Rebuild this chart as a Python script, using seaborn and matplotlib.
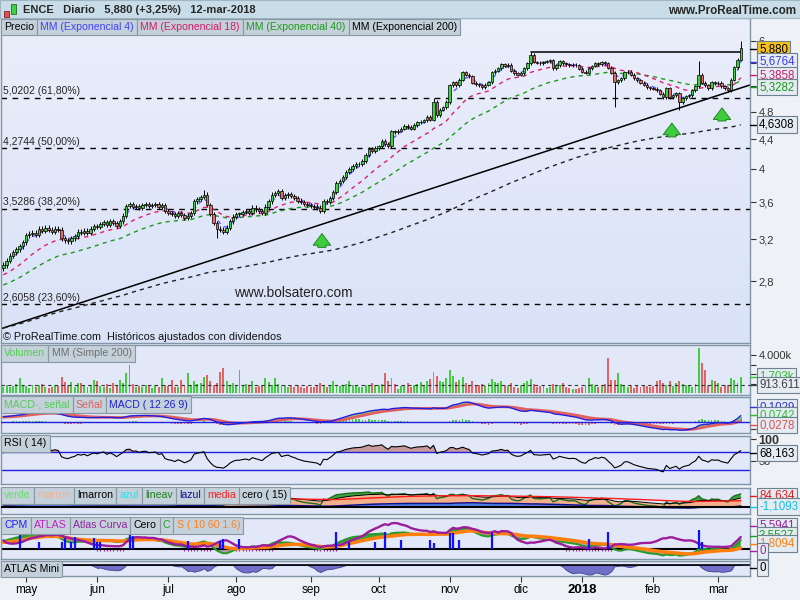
import numpy as np
import pandas as pd
import matplotlib
matplotlib.use("Agg")
import matplotlib.pyplot as plt
from matplotlib.patches import Rectangle
from matplotlib.lines import Line2D
import seaborn as sns

# ---------------- datos (ENCE diario) ----------------
cierres_abr = [2.95, 2.99, 3.04, 3.07, 3.10, 3.13, 3.17]
cierres_may = [3.24, 3.26, 3.27, 3.25, 3.31, 3.29, 3.32, 3.30, 3.28, 3.31, 3.30,
               3.21, 3.19, 3.18, 3.21, 3.23, 3.28, 3.27, 3.29, 3.27, 3.31, 3.34]
cierres_jun = [3.33, 3.36, 3.38, 3.35, 3.39, 3.37, 3.34, 3.39, 3.45, 3.56, 3.58,
               3.55, 3.56, 3.54, 3.57, 3.58, 3.56, 3.57, 3.58, 3.55, 3.57, 3.50]
cierres_jul = [3.48, 3.47, 3.45, 3.48, 3.46, 3.43, 3.45, 3.48, 3.61, 3.64, 3.66,
               3.69, 3.57, 3.47, 3.37, 3.31, 3.30, 3.28, 3.32, 3.39, 3.44]
cierres_ago = [3.47, 3.47, 3.49, 3.50, 3.48, 3.54, 3.52, 3.50, 3.48, 3.55, 3.61, 3.69,
               3.71, 3.73, 3.65, 3.68, 3.70, 3.67, 3.65, 3.62, 3.60, 3.58, 3.57]
cierres_sep = [3.56, 3.55, 3.54, 3.50, 3.61, 3.60, 3.65, 3.72, 3.83, 3.85, 3.90,
               3.96, 4.00, 4.04, 4.06, 4.07, 4.10, 4.18, 4.26, 4.24, 4.28]
cierres_oct = [4.30, 4.37, 4.33, 4.30, 4.51, 4.50, 4.52, 4.55, 4.59, 4.57, 4.55,
               4.60, 4.64, 4.65, 4.67, 4.72, 4.68, 4.95, 4.75, 4.83, 4.87, 4.95]
cierres_nov = [5.22, 5.27, 5.22, 5.31, 5.44, 5.40, 5.37, 5.26, 5.24, 5.22, 5.19,
               5.23, 5.27, 5.44, 5.47, 5.51, 5.58, 5.55, 5.57, 5.47, 5.42, 5.40]
cierres_dic = [5.42, 5.51, 5.60, 5.75, 5.62, 5.61, 5.60, 5.62, 5.63, 5.65, 5.51,
               5.56, 5.63, 5.60, 5.58, 5.56, 5.57, 5.56, 5.50]
cierres_ene = [5.45, 5.43, 5.51, 5.55, 5.60, 5.58, 5.62, 5.60, 5.52, 5.43, 5.27,
               5.30, 5.34, 5.44, 5.45, 5.40, 5.34, 5.30, 5.26, 5.23, 5.19, 5.17]
cierres_feb = [5.16, 5.14, 5.08, 5.03, 5.17, 5.03, 5.06, 5.09, 4.95, 5.01,
               5.04, 5.06, 5.14, 5.20, 5.40, 5.26, 5.22, 5.17, 5.27, 5.25]
cierres_mar = [5.26, 5.20, 5.17, 5.14, 5.31, 5.53, 5.66, 5.88]

apertura_inicial = 2.92
mecha_normal = 0.025
mecha_alta = {62: 0.05, 133: 0.06, 163: 0.06, 215: 0.24, 228: 0.12}
mecha_baja = {66: 0.10, 189: 0.40, 209: 0.12}

# volumen en miles
vol_abr = [700, 900, 650, 800, 1000, 1580, 750]
vol_may = [800, 600, 900, 700, 850, 1000, 650, 550, 700, 900, 800,
           1750, 1200, 900, 1200, 700, 1100, 1050, 800, 650, 900, 1400]
vol_jun = [1250, 800, 700, 950, 600, 1100, 900, 1400, 1100, 2100, 2950,
           1000, 700, 800, 650, 900, 750, 600, 850, 700, 1580, 900]
vol_jul = [800, 1400, 700, 650, 1400, 800, 2100, 900, 1300, 1000, 1100,
           1750, 1900, 1300, 900, 1100, 2280, 2630, 1250, 900, 1100]
vol_ago = [900, 2450, 800, 1000, 900, 1250, 700, 800, 850, 1580, 1200, 900,
           1580, 1000, 800, 900, 700, 750, 650, 900, 700, 600, 800]
vol_sep = [700, 650, 800, 1100, 900, 700, 800, 1250, 900, 800, 900,
           1000, 1250, 900, 800, 650, 700, 900, 800, 1100, 900]
vol_oct = [900, 1000, 2100, 1300, 1600, 1000, 500, 800, 900, 1100, 700,
           900, 1000, 1200, 900, 1300, 1500, 2200, 1800, 1300, 1200, 1600]
vol_nov = [2500, 1800, 1200, 1400, 1700, 1100, 900, 1300, 800, 900, 1000,
           800, 1100, 1500, 1200, 1100, 1300, 900, 800, 1100, 700, 600]
vol_dic = [900, 1100, 1300, 1500, 1000, 700, 800, 900, 600, 700,
           1000, 800, 900, 1120, 700, 600, 500, 400, 600]
vol_ene = [700, 900, 1580, 1000, 800, 700, 900, 1000, 3680, 1400, 1400,
           2100, 1000, 900, 700, 800, 600, 800, 700, 900, 800, 700]
vol_feb = [800, 1250, 1400, 1100, 900, 1250, 800, 1100, 1300, 1000,
           900, 800, 700, 1000, 4740, 3160, 2450, 850, 1400, 1250]
vol_mar = [1050, 700, 850, 900, 1580, 1400, 1100, 1750]
vol_mm200 = 913.611

# barras CPM (día, altura)
cpm_dia = [5, 11, 18, 19, 21, 22, 28, 29, 30, 39, 40, 57, 67, 68, 73, 103, 107, 115,
           118, 123, 132, 133, 138, 139, 141, 151, 181, 187, 215, 216]
cpm_valor = [4.4, 2.3, 2.3, 3.3, 2.3, 3.8, 3.3, 2.3, 2.3, 4.4, 4.1, 2.6, 2.6, 3.1, 3.1,
             5.4, 2.1, 2.3, 5.2, 2.8, 2.8, 2.0, 4.9, 5.1, 2.8, 4.9, 3.1, 5.4, 5.9, 2.3]

niveles_fibo = [5.0202, 4.2744, 3.5286, 2.6058]
etiquetas_fibo = ["5,0202 (61,80%)", "4,2744 (50,00%)", "3,5286 (38,20%)", "2,6058 (23,60%)"]
tendencia_x = [-0.74, 230.86]
tendencia_y = [2.41, 5.225]
resistencia_x = [163, 228]
resistencia_y = [5.80, 5.80]
flechas_x = [98.5, 206.7, 222.2]
flechas_base = [3.12, 4.43, 4.66]
flechas_punta = [3.26, 4.63, 4.86]

festivos = ["2017-05-01", "2017-12-25", "2017-12-26", "2018-01-01"]
meses = ["may", "jun", "jul", "ago", "sep", "oct", "nov", "dic", "2018", "feb", "mar"]

# ---------------- preparación ----------------
closes = np.array(cierres_abr + cierres_may + cierres_jun + cierres_jul + cierres_ago +
                  cierres_sep + cierres_oct + cierres_nov + cierres_dic + cierres_ene +
                  cierres_feb + cierres_mar)
volume = np.array(vol_abr + vol_may + vol_jun + vol_jul + vol_ago + vol_sep + vol_oct +
                  vol_nov + vol_dic + vol_ene + vol_feb + vol_mar, dtype=float)
n = len(closes)
idx = np.arange(n)
dates = pd.bdate_range("2017-04-20", "2018-03-12")
dates = dates[~dates.isin(pd.to_datetime(festivos))][:n]

opens = np.r_[apertura_inicial, closes[:-1]]
w_up = np.full(n, mecha_normal)
w_dn = np.full(n, mecha_normal)
for k, v in mecha_alta.items():
    w_up[k] = v
for k, v in mecha_baja.items():
    w_dn[k] = v
highs = np.maximum(opens, closes) + w_up
lows = np.minimum(opens, closes) - w_dn


def ema(values, span, seed=None):
    a = 2.0 / (span + 1)
    prev = values[0] if seed is None else seed
    out = np.empty(len(values))
    for k, v in enumerate(values):
        prev = prev + a * (v - prev)
        out[k] = prev
    return out


def rsi_wilder(c, per, g0, l0):
    ag, al = g0, l0
    out = np.empty(len(c))
    for k in range(len(c)):
        d = c[k] - c[k - 1] if k > 0 else 0.0
        ag = (ag * (per - 1) + max(d, 0)) / per
        al = (al * (per - 1) + max(-d, 0)) / per
        out[k] = 100 * ag / (ag + al)
    return out


ema4 = ema(closes, 4, 2.92)
ema18 = ema(closes, 18, 2.85)
ema40 = ema(closes, 40, 2.76)
ema200 = ema(closes, 200, 2.41)

macd = ema(closes, 12, 2.88) - ema(closes, 26, 2.80)
senal = ema(macd, 9, 0.07)
hist = macd - senal

rsi14 = rsi_wilder(closes, 14, 0.022, 0.010)

rsi15 = rsi_wilder(closes, 15, 0.02, 0.011)
rsi7 = rsi_wilder(closes, 7, 0.02, 0.011)
lmarron = 1.5 * ema(rsi15, 5) - 25
lineav = 1.5 * rsi7 - 25
media = ema(lmarron, 40, 40)
azul = 400 * (ema(closes, 15, 2.86) - ema40) / closes

base20 = np.r_[np.full(20, closes[0]), closes[:-20]]
atlas = ema(np.abs(40 * np.log(closes / base20)), 5, 4.0)
c_line = 45 * np.log(ema4 / ema40)
s_line = ema(c_line, 15, 2.0)
mini = np.clip(np.minimum(0, atlas - 1.6) * 7, -10, 0)

# ---------------- figura ----------------
sns.set_style("white")
plt.rcParams["font.family"] = ["Liberation Sans", "DejaVu Sans"]

W, H = 800, 600
PLOT_R = 750
XMIN, XMAX = -0.74, 230.86
BORDE = "#8096a6"
FONDO = "#e2e8f8"

fig = plt.figure(figsize=(8, 6), dpi=100, facecolor="#eef2f6")
fig.patches.append(Rectangle((0, 1 - 18 / H), 1, 18 / H, transform=fig.transFigure,
                             facecolor="#c8dde7", edgecolor="#9fb6c3", lw=0.8, zorder=0))


def panel(top, bottom, bg=FONDO):
    ax = fig.add_axes([1 / W, 1 - bottom / H, (PLOT_R - 1) / W, (bottom - top) / H])
    ax.set_facecolor(bg)
    for s in ax.spines.values():
        s.set_color(BORDE)
        s.set_linewidth(1)
    ax.yaxis.tick_right()
    ax.tick_params(axis="x", bottom=False, labelbottom=False)
    ax.tick_params(axis="y", right=True, direction="out", length=4, width=0.8,
                   colors="#333333", labelsize=8, pad=2)
    ax.set_xlim(XMIN, XMAX)
    return ax


# --- precio ---
ax = panel(18, 343)
grad = np.linspace(0, 1, 100).reshape(-1, 1)
cmap = matplotlib.colors.LinearSegmentedColormap.from_list("bg", ["#ebeefb", "#d9e2f7"])
ax.imshow(grad, extent=[0, 1, 0, 1], transform=ax.transAxes, aspect="auto", cmap=cmap,
          zorder=0, origin="upper")
ax.set_yscale("log")

trans = ax.get_yaxis_transform()
for lvl, lab in zip(niveles_fibo, etiquetas_fibo):
    ax.axhline(lvl, color="black", lw=1, ls=(0, (4, 4)), zorder=1)
    ax.annotate(lab, xy=(0.003, lvl), xycoords=trans, xytext=(0, 1),
                textcoords="offset points", va="bottom", ha="left", fontsize=7.5, zorder=5)

sns.lineplot(x=tendencia_x, y=tendencia_y, ax=ax, color="black", lw=1.1, zorder=2)
sns.lineplot(x=resistencia_x, y=resistencia_y, ax=ax, color="black", lw=1.1, zorder=2)

for serie, color in [(ema200, "#222222"), (ema40, "#1c9a1c"), (ema18, "#e0206f"),
                     (ema4, "#5a5aff")]:
    sns.lineplot(x=idx, y=serie, ax=ax, color=color, lw=1, linestyle=(0, (3, 3)), zorder=2)

up = closes >= opens
ax.vlines(idx, lows, highs, color="black", lw=0.7, zorder=3)
cuerpo = np.maximum(np.abs(closes - opens), 0.006)
ax.bar(idx, cuerpo, bottom=np.minimum(opens, closes), width=0.75,
       color=np.where(up, "#3fd13f", "#e26a6a"), edgecolor="black", linewidth=0.5, zorder=4)

for fx, fb, ft in zip(flechas_x, flechas_base, flechas_punta):
    ax.annotate("", xy=(fx, ft), xytext=(fx, fb), zorder=6,
                arrowprops=dict(arrowstyle="simple,head_width=0.9,head_length=0.6,tail_width=0.42",
                                fc="#3ccc3c", ec="#1a7a1a", lw=0.6, mutation_scale=14,
                                shrinkA=0, shrinkB=0))

yt = [2.8, 3.2, 3.6, 4.0, 4.4, 4.8, 5.2, 5.6, 6.0]
ax.set_yticks(yt)
ax.set_yticklabels(["2,8", "3,2", "3,6", "4", "4,4", "4,8", "", "", "6"])
ax.yaxis.set_minor_locator(matplotlib.ticker.NullLocator())
ax.set_ylim(2.303, 6.463)
ax.set_xlim(XMIN, XMAX)
ax.set_xlabel("")
ax.set_ylabel("")

fig.text(234 / W, 1 - 293 / H, "www.bolsatero.com", fontsize=9.8, va="center", color="#222222")
fig.text(3 / W, 1 - 337 / H, "© ProRealTime.com  Históricos ajustados con dividendos",
         fontsize=7.8, va="center", color="#111111")

# --- volumen ---
axv = panel(345, 395)
axv.bar(idx, volume, width=0.6, color=np.where(up, "#44cc44", "#e06666"), lw=0, zorder=2)
axv.axhline(vol_mm200, color="#333333", lw=0.8, ls=(0, (3, 3)), zorder=3)
axv.set_yticks([1000, 2000, 3000, 4000])
axv.set_yticklabels(["", "", "", "4.000k"])
axv.set_ylim(-179, 5084)

# --- MACD ---
axm = panel(397, 433)
axm.bar(idx, hist, width=0.5, color=np.where(hist >= 0, "#44cc44", "#e06666"), lw=0, zorder=2)
axm.fill_between(idx, macd, senal, where=macd >= senal, color="#7fd87f", lw=0,
                 interpolate=True, zorder=3)
axm.fill_between(idx, macd, senal, where=macd < senal, color="#ee8080", lw=0,
                 interpolate=True, zorder=3)
sns.lineplot(x=idx, y=senal, ax=axm, color="#e26060", lw=2, zorder=4)
sns.lineplot(x=idx, y=macd, ax=axm, color="#2020e0", lw=1, zorder=5)
axm.axhline(0, color="#2020e0", lw=1, zorder=4)
axm.set_yticks([-0.1, 0.1])
axm.set_yticklabels(["", ""])
axm.set_ylim(-0.151, 0.356)
axm.set_xlim(XMIN, XMAX)

# --- RSI ---
axr = panel(436, 484)
axr.fill_between(idx, 70, rsi14, where=rsi14 > 70, color="#c99a9a", lw=0, interpolate=True)
axr.fill_between(idx, 30, rsi14, where=rsi14 < 30, color="#8fa0e8", lw=0, interpolate=True)
axr.axhline(70, color="#2020e0", lw=1)
axr.axhline(30, color="#2020e0", lw=1)
sns.lineplot(x=idx, y=rsi14, ax=axr, color="black", lw=0.8, zorder=4)
axr.set_yticks([50, 100])
axr.set_yticklabels(["50", "100"])
axr.get_yticklabels()[1].set_fontweight("bold")
axr.get_yticklabels()[1].set_fontsize(9)
axr.set_ylim(-1.6, 106.8)
axr.set_xlim(XMIN, XMAX)

# --- indicador (15) ---
axi = panel(488, 514)
axi.fill_between(idx, 0, lmarron, color="#f4b08c", lw=0, zorder=1)
axi.fill_between(idx, lmarron, lineav, where=lineav > lmarron, color="#3fa53f", lw=0,
                 interpolate=True, zorder=2)
sns.lineplot(x=idx, y=lineav, ax=axi, color="#1d6d1d", lw=1, zorder=3)
sns.lineplot(x=idx, y=lmarron, ax=axi, color="black", lw=0.7, zorder=3)
axi.fill_between(idx, 0, azul, color="#4d7fe6", lw=0, zorder=4)
sns.lineplot(x=idx, y=azul, ax=axi, color="#10108a", lw=1.1, zorder=5)
sns.lineplot(x=idx, y=media, ax=axi, color="#ff1a1a", lw=1, zorder=5)
axi.axhline(0, color="black", lw=1.5, zorder=6)
axi.set_yticks([])
axi.set_ylim(-58.9, 150.8)
axi.set_xlim(XMIN, XMAX)

# --- CPM / ATLAS ---
axc = panel(518, 559)
axc.fill_between(idx, c_line, s_line, where=c_line >= s_line, color="#3fa53f", lw=0,
                 interpolate=True, zorder=1)
axc.fill_between(idx, c_line, s_line, where=c_line < s_line, color="#b89ab0", lw=0,
                 interpolate=True, zorder=1)
curva = atlas < 1.3
axc.vlines(idx[curva], -0.7, 0, color="#a020a0", lw=0.8, zorder=2)
axc.axhline(0, color="black", lw=1.5, zorder=2)
sns.lineplot(x=idx, y=c_line, ax=axc, color="#2a9a2a", lw=1.5, zorder=3)
sns.lineplot(x=idx, y=s_line, ax=axc, color="#ff7f0e", lw=2.5, zorder=4)
sns.lineplot(x=idx, y=atlas, ax=axc, color="#9c1c9c", lw=1.7, zorder=5)
axc.vlines(cpm_dia, 0, cpm_valor, color="#1010ff", lw=1.6, zorder=6)
axc.set_yticks([])
axc.set_ylim(-3.125, 9.69)
axc.set_xlim(XMIN, XMAX)

# --- ATLAS Mini ---
axn = panel(561, 576)
axn.fill_between(idx, mini, 0, color="#7070c8", lw=0.6, edgecolor="#404090")
axn.axhline(0, color="black", lw=1.2)
axn.set_yticks([])
axn.set_ylim(-11, 4)
axn.set_xlim(XMIN, XMAX)
inicio_mes = [k for k in range(1, n) if dates[k].month != dates[k - 1].month]
axn.set_xticks(inicio_mes)
axn.set_xticklabels(meses)
axn.tick_params(axis="x", bottom=True, labelbottom=True, direction="out", length=4,
                width=0.8, colors="#333333", labelsize=8.5, pad=2)
for t in axn.get_xticklabels():
    t.set_color("black")
    if t.get_text() == "2018":
        t.set_fontweight("bold")
        t.set_fontsize(9.5)

# ---------------- textos de cabecera y leyendas ----------------
fig.patches.append(Rectangle((4 / W, 1 - 17 / H), 5 / W, 6 / H, transform=fig.transFigure,
                             facecolor="#e05050", edgecolor="#802020", lw=0.6))
fig.patches.append(Rectangle((11 / W, 1 - 14 / H), 5 / W, 10 / H, transform=fig.transFigure,
                             facecolor="#40d040", edgecolor="#207020", lw=0.6))
fig.text(23 / W, 1 - 10 / H, "ENCE   Diario   5,880 (+3,25%)   12-mar-2018",
         fontsize=8, fontweight="bold", va="center")
fig.text(796 / W, 1 - 11 / H, "www.ProRealTime.com", fontsize=8.4, fontweight="bold",
         va="center", ha="right")

renderer = fig.canvas.get_renderer()


def fila_leyenda(x0, yc, items, fs=7.6):
    pad = 0.3
    pad_px = pad * fs * 100 / 72
    x = x0 + pad_px
    for txt, col in items:
        t = fig.text(x / W, 1 - yc / H, txt, color=col, fontsize=fs, va="center", ha="left",
                     bbox=dict(boxstyle=f"square,pad={pad}", fc="#c4d1da", ec="#8797a3", lw=0.8),
                     zorder=10)
        bb = t.get_window_extent(renderer)
        x = bb.x1 + 2 * pad_px


fila_leyenda(1, 27, [("Precio", "black"), ("MM (Exponencial 4)", "#4040ff"),
                     ("MM (Exponencial 18)", "#d01c6a"), ("MM (Exponencial 40)", "#1c9a1c"),
                     ("MM (Exponencial 200)", "black")])
fila_leyenda(1, 353.5, [("Volumen", "#55cc55"), ("MM (Simple 200)", "#707070")])
fila_leyenda(1, 404.5, [("MACD-, señal", "#55cc55"), ("Señal", "#e06060"),
                        ("MACD ( 12 26 9)", "#2020d0")])
fila_leyenda(1, 443.5, [("RSI ( 14)", "black")])
fila_leyenda(1, 495.5, [("verde", "#66dd66"), ("marron", "#f4b090"), ("lmarron", "black"),
                        ("azul", "#20e0f0"), ("lineav", "#208020"), ("lazul", "#101090"),
                        ("media", "#ff2020"), ("cero ( 15)", "black")])
fila_leyenda(1, 525.5, [("CPM", "#2020ff"), ("ATLAS", "#c020c0"), ("Atlas Curva", "#9020a0"),
                        ("Cero", "black"), ("C", "#20a020"), ("S ( 10 60 1.6)", "#ff8020")])
fila_leyenda(1, 569, [("ATLAS Mini", "black")])


def caja_valor(yc, txt, col, fc="#e4ebf2", fs=8.3):
    fig.add_artist(Line2D([PLOT_R / W, 756 / W], [1 - yc / H] * 2, color=col, lw=1))
    fig.text(759 / W, 1 - yc / H, txt, color=col, fontsize=fs, va="center", ha="left",
             bbox=dict(boxstyle="square,pad=0.2", fc=fc, ec="#6f8190", lw=0.8), zorder=11)


caja_valor(49, "5,880", "black", fc="#f6c21a")
caja_valor(61.5, "5,6764", "#3a3af0")
caja_valor(75, "5,3858", "#d0206a")
caja_valor(87, "5,3282", "#1a9a1a")
caja_valor(124.5, "4,6308", "black")
caja_valor(376.5, "1.703k", "#30c030")
caja_valor(385, "913.611", "#404040")
caja_valor(407, "0,1029", "#3030e0")
caja_valor(415, "0,0742", "#30c030")
caja_valor(425, "0,0278", "#e05050")
caja_valor(453, "68,163", "black")
caja_valor(496, "84,634", "#e02020")
caja_valor(506.5, "-1,1093", "#10c0e0")
caja_valor(526, "5,5941", "#a020a0")
caja_valor(535.5, "3,5527", "#20a020")
caja_valor(543.5, "1,8094", "#ff7f0e")
caja_valor(551, "0", "#a020a0")
caja_valor(568, "0", "black")

fig.savefig("out.png", dpi=100, facecolor=fig.get_facecolor())
